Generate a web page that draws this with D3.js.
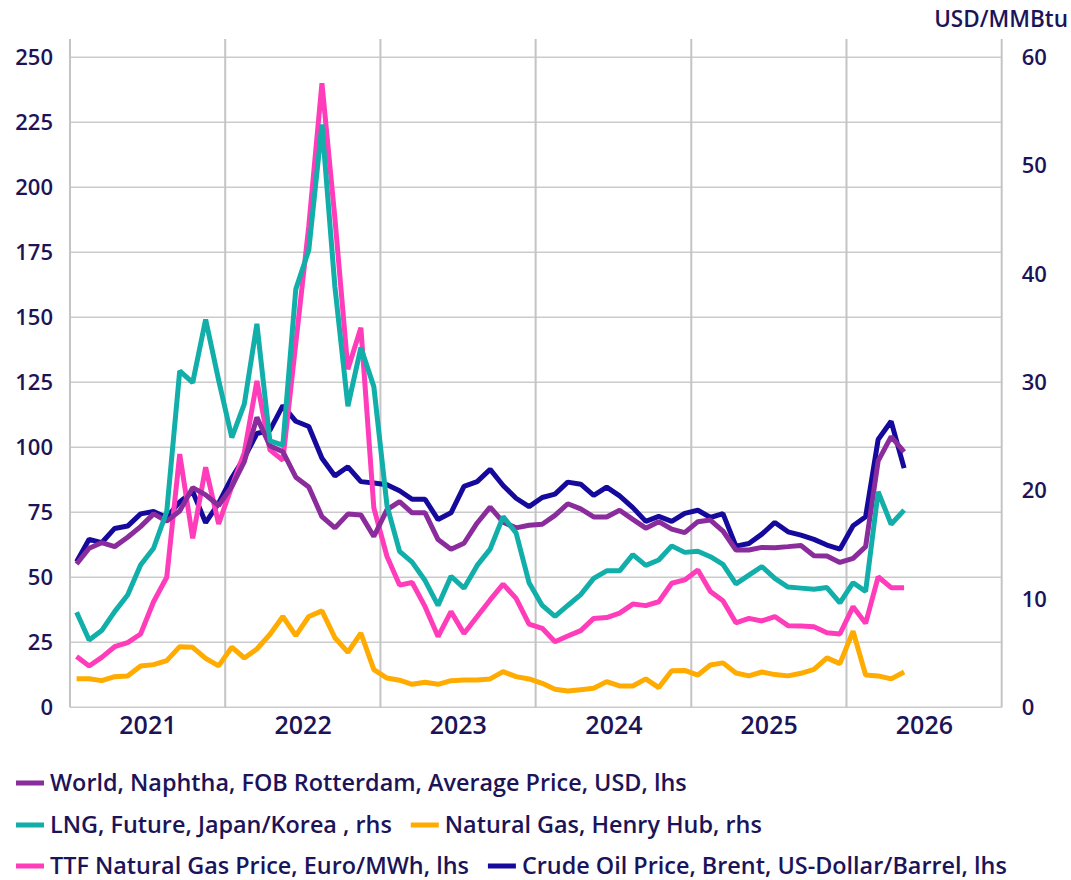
<!DOCTYPE html>
<html>
<head>
<meta charset="utf-8">
<script src="https://cdn.jsdelivr.net/npm/d3@7"></script>
<style>
  html, body { margin: 0; padding: 0; background: #ffffff; }
  svg { display: block; font-family: "Open Sans", "Noto Sans", sans-serif; }
</style>
</head>
<body>
<svg id="chart" width="1071" height="880"></svg>
<script>
// Monthly observations, Jan 2021 – May 2026
const months = d3.timeMonth.range(new Date(2021, 0, 1), new Date(2026, 5, 1));

// World, Naphtha, FOB Rotterdam, average price, USD (left axis)
const naphtha = [55.1, 61.2, 63.3, 61.8, 65.4, 69.5, 74.4, 71.6, 75.5, 84.5, 81.7, 77.6,
  84.9, 94.5, 111.5, 100.6, 98.3, 88.5, 84.7, 73.3, 69, 74.3, 74, 65.7,
  76, 79.1, 74.8, 74.8, 64.5, 60.8, 63.1, 70.9, 77, 71.2, 69, 70,
  70.4, 73.8, 78.3, 76.3, 73.2, 73.2, 75.8, 72.3, 68.9, 71.4, 68.5, 67.2,
  71.4, 72, 67.8, 60.5, 60.5, 61.5, 61.4, 61.8, 62.2, 58.3, 58.2, 55.7,
  57.3, 61.8, 94.8, 104.1, 98.2];

// LNG future, Japan/Korea, USD/MMBtu (right axis)
const lng = [8.77, 6.22, 7.08, 8.83, 10.37, 13.14, 14.68, 18.06, 31.05, 29.97, 35.8, 30.2,
  24.9, 28.0, 35.4, 24.6, 24.2, 38.6, 42.2, 53.8, 38.8, 27.8, 33.2, 29.6,
  18.6, 14.4, 13.4, 11.7, 9.4, 12.1, 11.0, 13.1, 14.6, 17.6, 16.1, 11.5,
  9.4, 8.4, 9.4, 10.4, 11.9, 12.6, 12.6, 14.1, 13.1, 13.6, 14.9, 14.3,
  14.4, 13.9, 13.2, 11.4, 12.2, 13.0, 11.9, 11.1, 11.0, 10.9, 11.05, 9.65,
  11.5, 10.7, 19.9, 16.9, 18.2];

// Natural gas, Henry Hub, USD/MMBtu (right axis)
const henryHub = [2.64, 2.64, 2.46, 2.83, 2.89, 3.82, 3.94, 4.31, 5.6, 5.54, 4.52, 3.82,
  5.55, 4.55, 5.38, 6.72, 8.38, 6.62, 8.38, 8.9, 6.42, 5.08, 6.85, 3.48,
  2.7, 2.5, 2.12, 2.31, 2.12, 2.46, 2.52, 2.52, 2.62, 3.29, 2.83, 2.62,
  2.22, 1.66, 1.5, 1.63, 1.75, 2.37, 1.97, 1.97, 2.62, 1.82, 3.38, 3.4,
  2.98, 3.9, 4.1, 3.17, 2.9, 3.26, 3.02, 2.9, 3.14, 3.5, 4.56, 4.03,
  7.02, 2.98, 2.9, 2.62, 3.26];

// TTF natural gas price, EUR/MWh (left axis)
const ttf = [19.5, 15.9, 19.2, 23.3, 24.9, 28.2, 40.6, 50, 97.4, 65, 92.3, 70.5,
  85, 98, 125.5, 99, 95, 140, 185, 240, 188, 130, 146, 76.7,
  58, 47, 48, 38.7, 27.2, 36.8, 28.4, 34.9, 41.3, 47.4, 41.9, 32,
  30.4, 25.2, 27.4, 29.5, 34.2, 34.5, 36.2, 39.7, 39.1, 40.6, 47.7, 49,
  52.8, 44.5, 41, 32.5, 34.2, 33.2, 34.9, 31.4, 31.3, 31.0, 28.7, 28.2,
  38.7, 32.3, 50.2, 46, 46];

// Crude oil, Brent, USD/barrel (left axis)
const brent = [56, 64.6, 63.3, 68.8, 69.7, 74.4, 75.3, 73, 79, 83, 71, 78.5,
  88.3, 96, 105.3, 106.5, 116, 110, 108, 95.8, 89, 92.5, 86.8, 86.3,
  85.6, 83.3, 80, 80, 72.2, 74.8, 85, 86.8, 91.5, 85.3, 80.4, 77.2,
  80.7, 82, 86.6, 85.8, 81.5, 84.7, 81.3, 76.8, 71.5, 73.4, 71.5, 74.6,
  75.8, 73, 74.5, 62, 63, 66.6, 71.1, 67.5, 66.2, 64.6, 62.4, 60.8,
  69.8, 73.3, 103, 110, 92];

const leftTicks = d3.range(0, 251, 25);
const rightTicks = d3.range(0, 61, 10);
const yearLabels = [2021, 2022, 2023, 2024, 2025, 2026];

// Series in legend order
const series = [
  { key: "naphtha", label: "World, Naphtha, FOB Rotterdam, Average Price, USD, lhs", values: naphtha, side: "left", color: "#8a2c9c" },
  { key: "lng", label: "LNG, Future, Japan/Korea , rhs", values: lng, side: "right", color: "#12aea9" },
  { key: "hh", label: "Natural Gas, Henry Hub, rhs", values: henryHub, side: "right", color: "#ffab00" },
  { key: "ttf", label: "TTF Natural Gas Price, Euro/MWh, lhs", values: ttf, side: "left", color: "#ff3dbb" },
  { key: "brent", label: "Crude Oil Price, Brent, US-Dollar/Barrel, lhs", values: brent, side: "left", color: "#150a9c" }
];
// Stacking order of the lines, bottom to top
const drawOrder = ["brent", "ttf", "hh", "naphtha", "lng"];

const textColor = "#1c1458";
const gridColor = "#cbcbcb";
const fontFamily = "'Open Sans', 'Noto Sans', sans-serif";

const svg = d3.select("#chart");
const plot = { left: 70, right: 1001.7, top: 39, bottom: 707.3, valueTop: 57.3 };

const x = d3.scaleTime()
  .domain([new Date(2021, 0, 1), new Date(2027, 0, 1)])
  .range([plot.left, plot.right]);
const yLeft = d3.scaleLinear().domain([0, 250]).range([plot.bottom, plot.valueTop]);
const yRight = d3.scaleLinear().domain([0, 60]).range([plot.bottom, plot.valueTop]);

// mid-point of each month
const midMonth = d => new Date((d.getTime() + d3.timeMonth.offset(d, 1).getTime()) / 2);

// horizontal grid
svg.append("g")
  .selectAll("line")
  .data(leftTicks)
  .join("line")
  .attr("x1", plot.left).attr("x2", plot.right)
  .attr("y1", d => yLeft(d)).attr("y2", d => yLeft(d))
  .attr("stroke", gridColor).attr("stroke-width", 1.5);

// vertical year separators, including the frame edges
const yearEdges = d3.timeYear.range(new Date(2021, 0, 1), new Date(2027, 0, 2));
svg.append("g")
  .selectAll("line")
  .data(yearEdges)
  .join("line")
  .attr("x1", d => x(d)).attr("x2", d => x(d))
  .attr("y1", plot.top).attr("y2", plot.bottom)
  .attr("stroke", "#c4c4c4").attr("stroke-width", 2);

// axes
const styleAxis = (g, size) => {
  g.select(".domain").remove();
  g.selectAll(".tick line").remove();
  g.selectAll("text")
    .attr("fill", textColor)
    .style("font-size", size + "px")
    .style("font-weight", 600)
    .style("font-family", fontFamily);
};

svg.append("g")
  .attr("transform", `translate(${plot.left},0)`)
  .call(d3.axisLeft(yLeft).tickValues(leftTicks).tickSize(0).tickPadding(17).tickFormat(d3.format("d")))
  .call(g => styleAxis(g, 22));

svg.append("g")
  .attr("transform", `translate(${plot.right},0)`)
  .call(d3.axisRight(yRight).tickValues(rightTicks).tickSize(0).tickPadding(20).tickFormat(d3.format("d")))
  .call(g => styleAxis(g, 22));

svg.append("g")
  .attr("transform", `translate(0,${plot.bottom})`)
  .call(d3.axisBottom(x)
    .tickValues(yearLabels.map(yr => new Date(yr, 6, 2)))
    .tickSize(0).tickPadding(9)
    .tickFormat(d3.timeFormat("%Y")))
  .call(g => styleAxis(g, 25));

// unit label for the right axis
svg.append("text")
  .attr("x", 1068).attr("y", 27)
  .attr("text-anchor", "end")
  .attr("fill", textColor)
  .style("font-size", "22.5px").style("font-weight", 600)
  .text("USD/MMBtu");

// lines
const lineFor = s => d3.line()
  .x((d, i) => x(midMonth(months[i])))
  .y(d => (s.side === "left" ? yLeft : yRight)(d));

const lines = svg.append("g").attr("fill", "none");
drawOrder.forEach(key => {
  const s = series.find(t => t.key === key);
  lines.append("path")
    .datum(s.values)
    .attr("d", lineFor(s))
    .attr("stroke", s.color)
    .attr("stroke-width", 5)
    .attr("stroke-linejoin", "bevel");
});

// legend
const legendRows = [["naphtha"], ["lng", "hh"], ["ttf", "brent"]];
const rowY = [783, 825, 866];
const legend = svg.append("g");
legendRows.forEach((row, r) => {
  let cx = 16;
  row.forEach(key => {
    const s = series.find(t => t.key === key);
    legend.append("rect")
      .attr("x", cx).attr("y", rowY[r] - 2.5)
      .attr("width", 28).attr("height", 5)
      .attr("fill", s.color);
    const t = legend.append("text")
      .attr("x", cx + 34).attr("y", rowY[r])
      .attr("dy", "0.35em")
      .attr("fill", textColor)
      .style("font-size", "23.4px").style("font-weight", 600)
      .text(s.label);
    cx += 34 + t.node().getComputedTextLength() + 19;
  });
});
</script>
</body>
</html>
